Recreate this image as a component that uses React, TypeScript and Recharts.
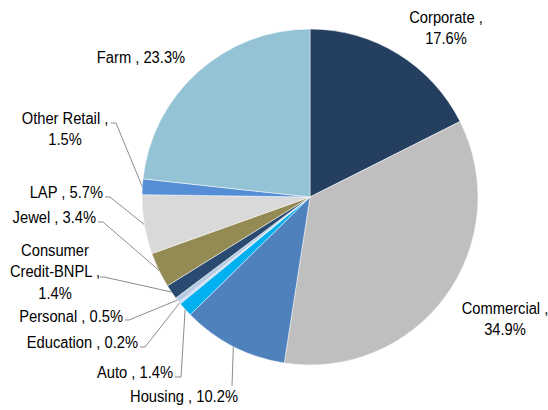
import React from 'react';
import { PieChart, Pie, Cell } from 'recharts';

const categories = ['Corporate', 'Commercial', 'Housing', 'Auto', 'Education', 'Personal', 'Consumer Credit-BNPL', 'Jewel', 'LAP', 'Other Retail', 'Farm'];
const shares = [17.6, 34.9, 10.2, 1.4, 0.2, 0.5, 1.4, 3.4, 5.7, 1.5, 23.3];
const labelTexts = [
  ['Corporate ,', '17.6%'],
  ['Commercial ,', '34.9%'],
  ['Housing , 10.2%'],
  ['Auto , 1.4%'],
  ['Education , 0.2%'],
  ['Personal , 0.5%'],
  ['Consumer', 'Credit-BNPL ,', '1.4%'],
  ['Jewel , 3.4%'],
  ['LAP , 5.7%'],
  ['Other Retail ,', '1.5%'],
  ['Farm , 23.3%'],
];
const colors = ['#243F60', '#BFBFBF', '#4F81BD', '#00B0F0', '#C6D9F1', '#B7CCE4', '#2B4A72', '#948A54', '#D9D9D9', '#558ED5', '#93C3D5'];

// label layout (page pixels): text anchor position, anchor type, leader line start points (null = no leader)
type Layout = { x: number; y: number; anchor: 'start' | 'middle' | 'end'; line: number[][] | null };
const layouts: Layout[] = [
  { x: 446, y: 17, anchor: 'middle', line: null },
  { x: 505, y: 308, anchor: 'middle', line: null },
  { x: 184, y: 396, anchor: 'middle', line: [[232, 386]] },
  { x: 173, y: 372, anchor: 'end', line: [[175, 377], [181, 377]] },
  { x: 138, y: 342, anchor: 'end', line: [[140, 347], [145, 347]] },
  { x: 123, y: 316, anchor: 'end', line: [[125, 320], [129, 320]] },
  { x: 55, y: 250, anchor: 'middle', line: [[100, 277], [104, 277]] },
  { x: 96, y: 217, anchor: 'end', line: [[98, 222], [103, 222]] },
  { x: 103, y: 192, anchor: 'end', line: [[105, 197], [110, 197]] },
  { x: 65, y: 118, anchor: 'middle', line: [[111, 123], [116, 123]] },
  { x: 141, y: 57, anchor: 'middle', line: null },
];

const data = categories.map((name, i) => ({ name, value: shares[i] }));

const RAD = Math.PI / 180;

const renderLabel = (props: any) => {
  const { cx, cy, midAngle, outerRadius, index } = props;
  const lay = layouts[index];
  const lines = labelTexts[index];
  const ex = cx + outerRadius * Math.cos(-midAngle * RAD);
  const ey = cy + outerRadius * Math.sin(-midAngle * RAD);
  let path = '';
  if (lay.line) {
    const pts = [...lay.line, [ex, ey]];
    path = pts.map((p, k) => `${k === 0 ? 'M' : 'L'}${p[0]},${p[1]}`).join(' ');
  }
  return (
    <g key={`lbl-${index}`}>
      {path && <path d={path} stroke="#8C8C8C" strokeWidth={1} fill="none" />}
      {lines.map((t, k) => (
        <text
          key={k}
          x={0}
          y={0}
          transform={`translate(${lay.x},${lay.y + k * 21.5}) scale(0.92,1)`}
          textAnchor={lay.anchor}
          dominantBaseline="central"
          fontFamily="'Liberation Sans', Arial, sans-serif"
          fontSize={16}
          fill="#000"
        >
          {t}
        </text>
      ))}
    </g>
  );
};

export default function App() {
  return (
    <div style={{ position: 'absolute', left: 0, top: 0, background: '#fff' }}>
      <PieChart width={548} height={410} margin={{ top: 0, right: 0, bottom: 0, left: 0 }}>
        <Pie
          data={data}
          dataKey="value"
          nameKey="name"
          cx={310}
          cy={197}
          outerRadius={168}
          startAngle={90}
          endAngle={-270}
          stroke="#ffffff"
          strokeWidth={0.5}
          label={renderLabel}
          labelLine={false}
          isAnimationActive={false}
        >
          {data.map((d, i) => (
            <Cell key={d.name} fill={colors[i]} />
          ))}
        </Pie>
      </PieChart>
    </div>
  );
}
